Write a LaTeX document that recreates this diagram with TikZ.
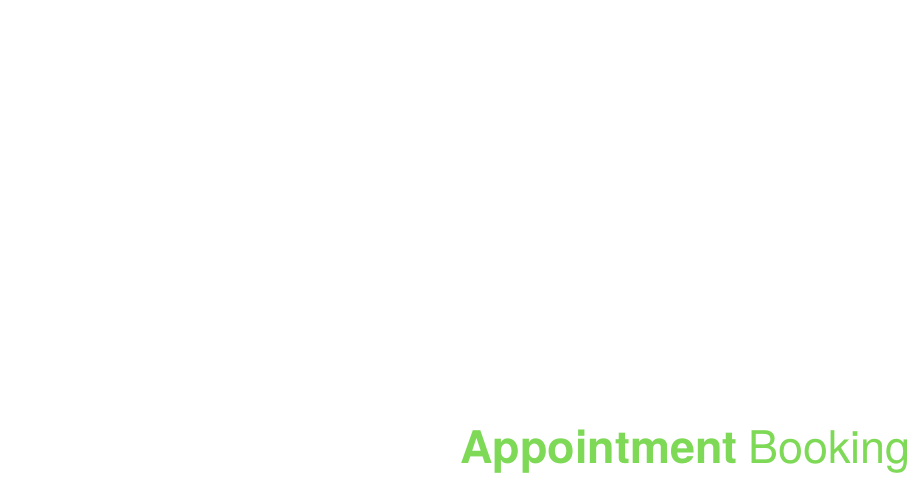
\documentclass[tikz,border=0pt]{standalone}
\usepackage{fontspec}
\setmainfont{TeX Gyre Heros}
\definecolor{brandgreen}{HTML}{7ED957}
\begin{document}
\begin{tikzpicture}[x=1pt,y=1pt,
  titletext/.style={inner sep=0pt, text=brandgreen, font=\fontsize{45}{50}\selectfont}]
\useasboundingbox[fill=white] (0,0) rectangle (920,480);
\node[titletext, anchor=base east] (title) at (911,17) {\textbf{Appointment}\hspace{-0.05em} Booking};
\end{tikzpicture}
\end{document}
